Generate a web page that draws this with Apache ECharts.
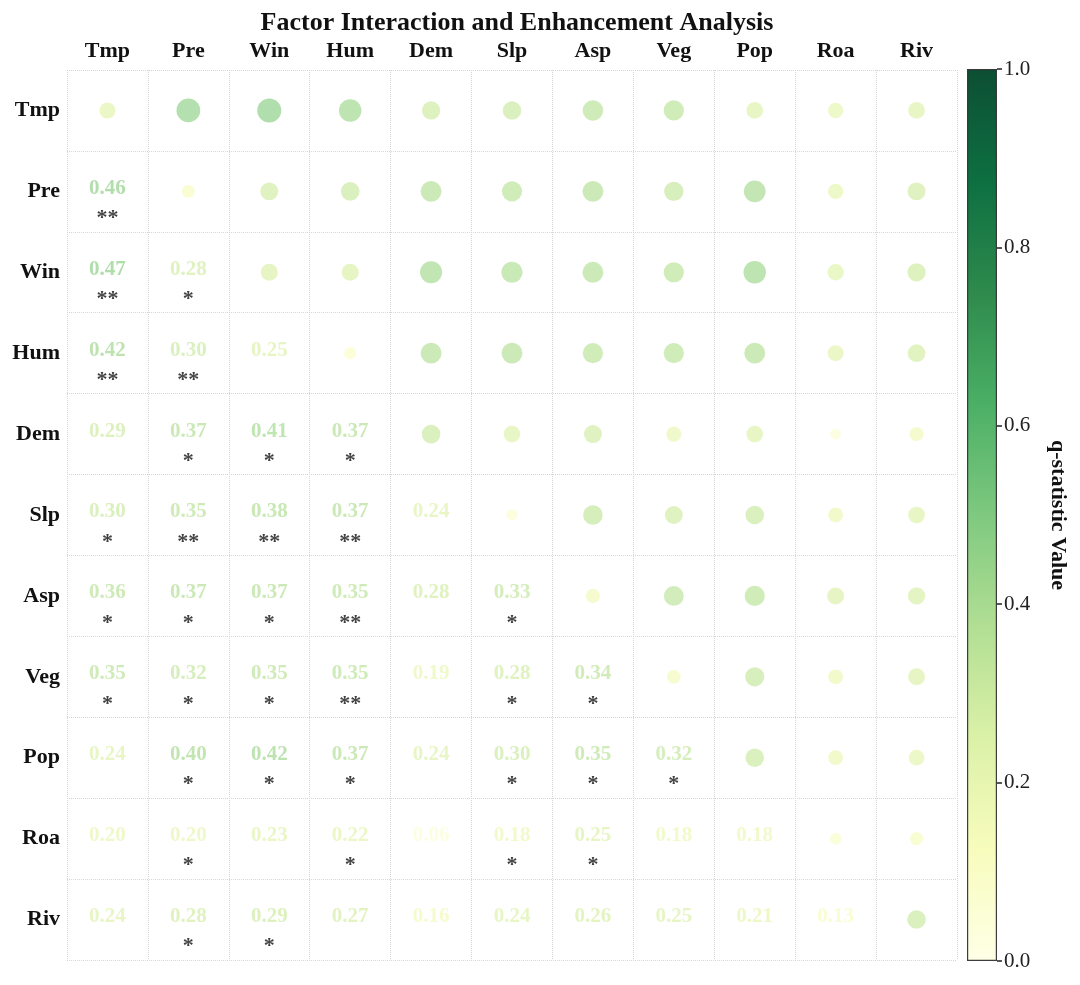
<!DOCTYPE html>
<html>
<head>
<meta charset="utf-8">
<title>Factor Interaction and Enhancement Analysis</title>
<script src="https://cdn.jsdelivr.net/npm/echarts@6/dist/echarts.min.js"></script>
<style>
  html, body { margin: 0; padding: 0; background: #fff; }
  #chart { width: 1080px; height: 985px; }
</style>
</head>
<body>
<div id="chart"></div>
<script>
  // factors (rows / columns)
  var factors = ['Tmp', 'Pre', 'Win', 'Hum', 'Dem', 'Slp', 'Asp', 'Veg', 'Pop', 'Roa', 'Riv'];

  // interaction q values, lower triangle (row i, columns 0..i-1)
  var qLower = [
    [],
    [0.46],
    [0.47, 0.28],
    [0.42, 0.30, 0.25],
    [0.29, 0.37, 0.41, 0.37],
    [0.30, 0.35, 0.38, 0.37, 0.24],
    [0.36, 0.37, 0.37, 0.35, 0.28, 0.33],
    [0.35, 0.32, 0.35, 0.35, 0.19, 0.28, 0.34],
    [0.24, 0.40, 0.42, 0.37, 0.24, 0.30, 0.35, 0.32],
    [0.20, 0.20, 0.23, 0.22, 0.06, 0.18, 0.25, 0.18, 0.18],
    [0.24, 0.28, 0.29, 0.27, 0.16, 0.24, 0.26, 0.25, 0.21, 0.13]
  ];

  // significance marks, same layout as qLower
  var sigLower = [
    [],
    ['**'],
    ['**', '*'],
    ['**', '**', ''],
    ['', '*', '*', '*'],
    ['*', '**', '**', '**', ''],
    ['*', '*', '*', '**', '', '*'],
    ['*', '*', '*', '**', '', '*', '*'],
    ['', '*', '*', '*', '', '*', '*', '*'],
    ['', '*', '', '*', '', '*', '*', '', ''],
    ['', '*', '*', '', '', '', '', '', '', '']
  ];

  // single factor q values (diagonal), estimated from circle size
  var qDiag = [0.22, 0.12, 0.25, 0.10, 0.30, 0.07, 0.16, 0.15, 0.30, 0.09, 0.30];

  // colorbar ticks
  var cbTicks = [0, 0.2, 0.4, 0.6, 0.8, 1.0];

  // YlGn colormap
  var ylgn = ['#ffffe5', '#f7fcb9', '#d9f0a3', '#addd8e', '#78c679', '#41ab5d', '#238443', '#006837', '#004529'];

  function hexRgb(h) {
    return [parseInt(h.substr(1, 2), 16), parseInt(h.substr(3, 2), 16), parseInt(h.substr(5, 2), 16)];
  }
  function cmap(v, a) {
    v = Math.max(0, Math.min(1, v));
    var p = v * (ylgn.length - 1);
    var i = Math.min(Math.floor(p), ylgn.length - 2);
    var t = p - i;
    var c0 = hexRgb(ylgn[i]), c1 = hexRgb(ylgn[i + 1]);
    var c = [0, 1, 2].map(function (k) { return Math.round(c0[k] + (c1[k] - c0[k]) * t); });
    return 'rgba(' + c[0] + ',' + c[1] + ',' + c[2] + ',' + a + ')';
  }

  var n = factors.length;
  var circles = [], values = [], stars = [];
  for (var i = 0; i < n; i++) {
    for (var j = 0; j < n; j++) {
      if (j < i) {
        var v = qLower[i][j];
        values.push({ value: [j, i, v], label: { color: cmap(v, 0.82) } });
        if (sigLower[i][j]) {
          stars.push({ value: [j, i, sigLower[i][j]] });
        }
      } else {
        var q = (i === j) ? qDiag[i] : qLower[j][i];
        circles.push({ value: [j, i, q], itemStyle: { color: cmap(q, 0.8) } });
      }
    }
  }

  var serif = '"Liberation Serif", "Times New Roman", serif';
  var gridLine = { show: true, lineStyle: { type: 'dotted', color: '#d6d6d6', width: 1 } };

  var cbStops = ylgn.map(function (c, k) {
    return { offset: k / (ylgn.length - 1), color: c };
  });

  var chart = echarts.init(document.getElementById('chart'));
  var option = {
    animation: false,
    backgroundColor: '#fff',
    title: {
      text: 'Factor Interaction and Enhancement Analysis',
      left: 512,
      top: 5,
      textAlign: 'center',
      textStyle: { fontFamily: serif, fontWeight: 'bold', fontSize: 26, color: '#111' }
    },
    grid: [
      { left: 67, right: 123, top: 70, bottom: 25 },
      { left: 967, right: 83, top: 69, bottom: 24 }
    ],
    xAxis: [
      {
        type: 'category', gridIndex: 0, data: factors, position: 'top',
        axisLine: { show: false }, axisTick: { show: false },
        axisLabel: { fontFamily: serif, fontWeight: 'bold', fontSize: 22, color: '#111', margin: 8 },
        splitLine: gridLine
      },
      {
        type: 'category', gridIndex: 1, data: ['q'],
        axisLine: { show: false }, axisTick: { show: false }, axisLabel: { show: false }
      }
    ],
    yAxis: [
      {
        type: 'category', gridIndex: 0, data: factors, inverse: true,
        axisLine: { show: false }, axisTick: { show: false },
        axisLabel: { fontFamily: serif, fontWeight: 'bold', fontSize: 22, color: '#111', margin: 7 },
        splitLine: gridLine
      },
      {
        type: 'value', gridIndex: 1, min: cbTicks[0], max: cbTicks[cbTicks.length - 1], interval: 0.2,
        position: 'right',
        axisLine: { show: false },
        axisTick: { show: true, length: 5, lineStyle: { color: '#222', width: 1.5 } },
        axisLabel: {
          fontFamily: serif, fontSize: 21, color: '#222', margin: 7,
          formatter: function (v) { return v.toFixed(1); }
        },
        splitLine: { show: false },
        name: 'q-statistic Value', nameLocation: 'middle', nameRotate: -90, nameGap: 50,
        nameTextStyle: { fontFamily: serif, fontWeight: 'bold', fontSize: 22, color: '#111' }
      }
    ],
    series: [
      {
        type: 'scatter', xAxisIndex: 0, yAxisIndex: 0,
        data: circles,
        symbolSize: function (d) { return 9 + 32 * d[2]; }
      },
      {
        type: 'scatter', xAxisIndex: 0, yAxisIndex: 0,
        data: values,
        symbolSize: 1,
        itemStyle: { color: 'rgba(0,0,0,0)' },
        label: {
          show: true, position: 'inside', offset: [0, -3],
          fontFamily: serif, fontWeight: 'bold', fontSize: 21,
          formatter: function (p) { return p.value[2].toFixed(2); }
        }
      },
      {
        type: 'scatter', xAxisIndex: 0, yAxisIndex: 0,
        data: stars,
        symbolSize: 1,
        itemStyle: { color: 'rgba(0,0,0,0)' },
        label: {
          show: true, position: 'inside', offset: [0, 27],
          fontFamily: serif, fontWeight: 'bold', fontSize: 22, color: '#111',
          formatter: function (p) { return p.value[2]; }
        }
      },
      {
        type: 'bar', xAxisIndex: 1, yAxisIndex: 1,
        data: [cbTicks[cbTicks.length - 1]],
        barWidth: '100%',
        itemStyle: {
          color: { type: 'linear', x: 0, y: 1, x2: 0, y2: 0, colorStops: cbStops },
          opacity: 0.95,
          borderColor: '#333', borderWidth: 1.2
        }
      }
    ]
  };
  chart.setOption(option);
</script>
</body>
</html>
